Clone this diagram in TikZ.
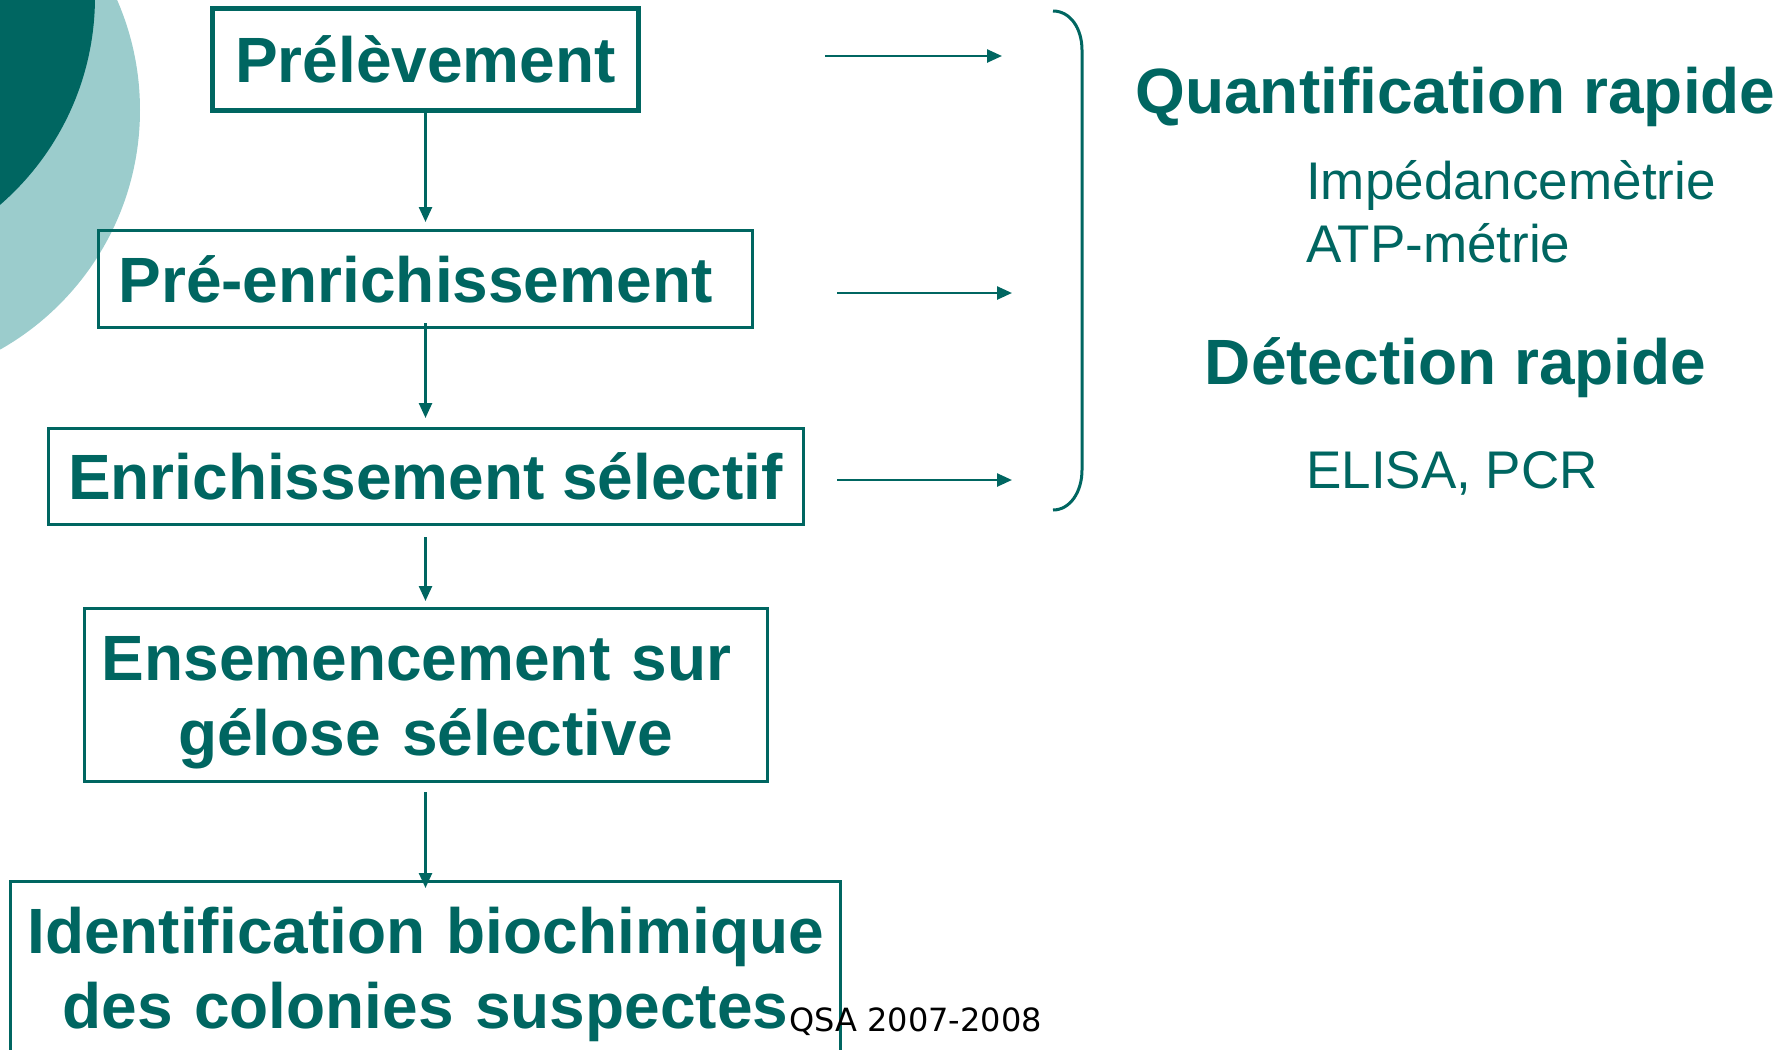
\documentclass[tikz,border=0pt]{standalone}
\usepackage{fontspec}
\setmainfont{Liberation Sans}
\newfontfamily\piedfont{DejaVu Sans}
\usetikzlibrary{arrows.meta,positioning}
\definecolor{QSteal}{RGB}{0,102,97}
\definecolor{QSlight}{RGB}{155,204,204}
\tikzset{
  etape/.style={draw=QSteal,line width=3pt,text=QSteal,align=center,inner sep=0pt,
                font=\fontsize{64}{75}\selectfont\bfseries,
                text height=46pt,text depth=0pt},
  etapedouble/.style={etape,text depth=75pt},
  titre/.style={anchor=base,inner sep=0pt,text=QSteal,
                font=\fontsize{64}{75}\selectfont\bfseries},
  methode/.style={anchor=base west,inner sep=0pt,text=QSteal,
                font=\fontsize{53}{62}\selectfont},
  note/.style={anchor=base west,inner sep=0pt,text=black,
                font=\piedfont\fontsize{32}{38}\selectfont},
  fl/.style={-{Triangle[length=15pt,width=13pt]},line width=2.5pt,draw=QSteal}
}
\begin{document}
\begin{tikzpicture}[x=1pt,y=-1pt]
  \useasboundingbox (0,0) rectangle (1792,1050);
  \clip (0,0) rectangle (1792,1050);
  % decor
  \fill[QSlight] (-135,110) circle (275pt);
  \fill[QSteal] (-180,-3) circle (275pt);
  % etapes
  \node[etape,line width=5pt,minimum width=426pt,minimum height=102pt] (prel) at (425.5,59.5) {Prélèvement};
  \node[etape,minimum width=654pt,minimum height=97pt] (preenr) at (425.5,279) {Pré-enrichissement\kern20pt};
  \node[etape,minimum width=755pt,minimum height=96pt] (enrsel) at (425.5,476.5) {Enrichissement sélectif};
  \node[etapedouble,text width=683pt,minimum height=173pt] (ensem) at (425.5,695) {Ensemencement sur\kern18pt\\gélose sélective};
  \node[etapedouble,text width=830pt,minimum height=173pt] (ident) at (425.5,968) {Identification biochimique\\des colonies suspectes};
  \draw[fl,shorten >=7pt] (prel) -- (preenr);
  \draw[fl,shorten <=-6pt,shorten >=9pt] (preenr) -- (enrsel);
  \draw[fl,shorten <=11pt,shorten >=6pt] (enrsel) -- (ensem);
  \draw[fl,shorten <=9pt,shorten >=-8pt] (ensem) -- (ident);
  % methodes rapides
  \coordinate (d1) at (825,56);
  \coordinate (f1) at (1002,56);
  \coordinate (d2) at (837,293);
  \coordinate (f2) at (1012,293);
  \coordinate (d3) at (837,480);
  \coordinate (f3) at (1012,480);
  \draw[fl] (d1) -- (f1);
  \draw[fl] (d2) -- (f2);
  \draw[fl] (d3) -- (f3);
  \draw[QSteal,line width=3pt] (1053,11) .. controls (1070,11) and (1082,28) .. (1082,50)
    -- (1082,470) .. controls (1082,492) and (1070,510) .. (1053,510);
  \node[titre] (quant) at (1455.5,113) {Quantification rapide};
  \node[methode] (imped) at (1306,199) {Impédancemètrie};
  \node[methode] (atp) at (1306,262) {ATP-métrie};
  \node[titre] (detect) at (1455.5,384) {Détection rapide};
  \node[methode] (elisa) at (1306,488) {ELISA, PCR};
  \node[note] (qsa) at (789,1031) {QSA 2007-2008};
\end{tikzpicture}
\end{document}
